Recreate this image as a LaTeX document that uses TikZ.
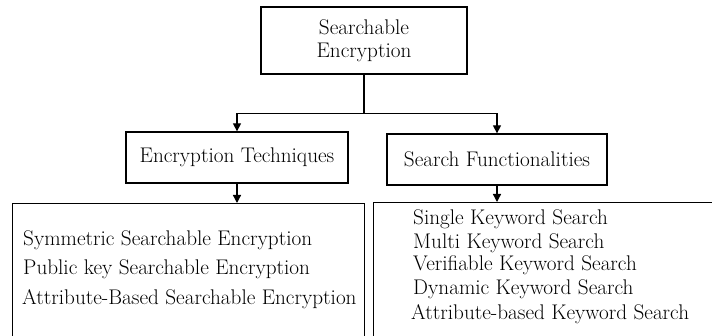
\documentclass[tikz,border=0pt]{standalone}
\usetikzlibrary{arrows.meta}
\usetikzlibrary{positioning}

\tikzset{
	catbox/.style={draw, line width=1.3pt, inner sep=0pt, align=center,
		font=\fontsize{21.2}{23}\selectfont},
	listbox/.style={draw, line width=1.3pt, inner sep=0pt, anchor=north west},
	entry/.style={anchor=mid west, inner sep=0pt, font=\fontsize{21.2}{23}\selectfont},
	link/.style={line width=1.3pt, -{Triangle[width=8pt,length=8pt]}}
}

\begin{document}
\begin{tikzpicture}[x=1pt,y=-1pt]
	\useasboundingbox (0,0) rectangle (712,336);
	\clip (0,0) rectangle (712,336);
	
	\node[catbox, minimum width=206pt, minimum height=67pt] (root) at (364,40.5) {Searchable\\Encryption};
	\node[catbox, minimum width=222pt, minimum height=51pt] (tech) at (237,157.5) {Encryption Techniques};
	\node[catbox, minimum width=220pt, minimum height=51pt] (func) at (497,159.5) {Search Functionalities};
	
	\node[listbox, minimum width=352pt, minimum height=150pt] (techlist) at (12,203) {};
	\node[listbox, minimum width=360pt, minimum height=150pt] (funclist) at (373,202) {};
	
		\draw[line width=1.3pt] (root.south) -- ++(0,39) coordinate (split);
		\draw[link] (split) -| (tech.north);
		\draw[link] (split) -| (func.north);
		\draw[link] (tech.south) -- (tech.south |- techlist.north);
		\draw[link] (func.south) -- (func.south |- funclist.north);
	
	\node[entry] (sse) at (23,243) {Symmetric Searchable Encryption};
	\node[entry] (pkse) at (23,272) {Public key Searchable Encryption};
	\node[entry] (abse) at (22,302) {Attribute-Based Searchable Encryption};
	
	\node[entry] (single) at (413,222) {Single Keyword Search};
	\node[entry] (multi) at (413,246) {Multi Keyword Search};
	\node[entry] (verif) at (413,268) {Verifiable Keyword Search};
	\node[entry] (dyn) at (413,292) {Dynamic Keyword Search};
	\node[entry] (attr) at (411,317) {Attribute-based Keyword Search};
\end{tikzpicture}
\end{document}
